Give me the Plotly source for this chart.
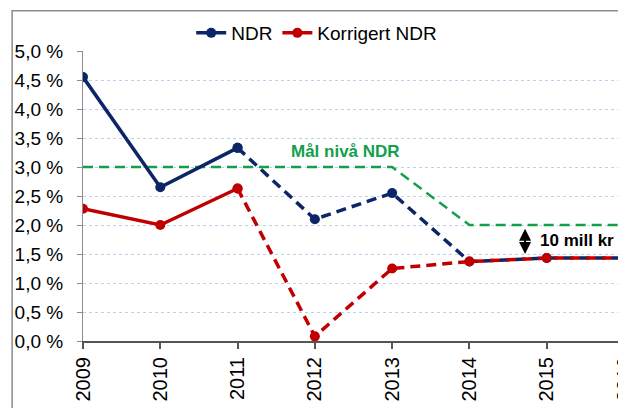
import plotly.graph_objects as go

years = [2009, 2010, 2011, 2012, 2013, 2014, 2015, 2016]
ndr = [4.55, 2.65, 3.33, 2.10, 2.55, 1.37, 1.43, 1.43]
korr_ndr = [2.28, 2.00, 2.63, 0.08, 1.25, 1.37, 1.43, 1.43]
goal_years = [2009, 2013, 2014, 2016]
goal_vals = [3.0, 3.0, 2.0, 2.0]
y_ticks = [0, 0.5, 1.0, 1.5, 2.0, 2.5, 3.0, 3.5, 4.0, 4.5, 5.0]

NAVY = "#0B2566"
RED = "#C00000"
GREEN = "#12A04A"
FONT = "Liberation Sans, Arial, sans-serif"

fig = go.Figure()

fig.add_trace(go.Scatter(x=goal_years, y=goal_vals, mode="lines", showlegend=False,
                         line=dict(color=GREEN, width=2.5, dash="10px,6px"), hoverinfo="skip"))

# NDR
fig.add_trace(go.Scatter(x=years[:3], y=ndr[:3], mode="lines+markers", name="NDR",
                         line=dict(color=NAVY, width=3.5), marker=dict(size=10, color=NAVY),
                         legendgroup="ndr"))
fig.add_trace(go.Scatter(x=years[2:], y=ndr[2:], mode="lines+markers", showlegend=False,
                         line=dict(color=NAVY, width=3.5, dash="10px,6px"),
                         marker=dict(size=10, color=NAVY), legendgroup="ndr"))
# Korrigert NDR
fig.add_trace(go.Scatter(x=years[:3], y=korr_ndr[:3], mode="lines+markers", name="Korrigert NDR",
                         line=dict(color=RED, width=3.5), marker=dict(size=10, color=RED),
                         legendgroup="korr"))
fig.add_trace(go.Scatter(x=years[2:], y=korr_ndr[2:], mode="lines+markers", showlegend=False,
                         line=dict(color=RED, width=3.5, dash="10px,6px"),
                         marker=dict(size=10, color=RED), legendgroup="korr"))

fig.add_annotation(x=2011.66, y=3.27, text="<b>Mål nivå NDR</b>", showarrow=False,
                   xanchor="left", yanchor="middle", font=dict(family=FONT, size=17, color=GREEN))
fig.add_annotation(x=2014.89, y=1.73, text="<b>10 mill kr</b>", showarrow=False,
                   xanchor="left", yanchor="middle", font=dict(family=FONT, size=17, color="#000000"))
fig.add_annotation(x=2014.72, y=1.50, ax=2014.72, ay=1.96, axref="x", ayref="y",
                   text="", showarrow=True, arrowhead=2, arrowside="end+start",
                   arrowwidth=2, arrowsize=1.2, arrowcolor="#000000")

# outer chart frame
fig.add_shape(type="rect", xref="paper", yref="paper", x0=-0.131, x1=1.2, y0=-0.5, y1=1.139,
              line=dict(color="#8C8C8C", width=1.5), fillcolor="rgba(0,0,0,0)", layer="below")

# page body has an 8px margin: figure occupies page x 8..626, y 8..408
fig.update_layout(
    width=618, height=400,
    margin=dict(l=75, r=2, t=43, b=67),
    paper_bgcolor="white", plot_bgcolor="white",
    separators=", ",
    font=dict(family=FONT, size=19, color="#000000"),
    legend=dict(orientation="h", x=0.2, y=1.062, xanchor="left", yanchor="middle",
                font=dict(family=FONT, size=19), itemwidth=30, tracegroupgap=0,
                bgcolor="rgba(0,0,0,0)"),
    showlegend=True,
)
fig.update_xaxes(range=[2009, 2016], tickmode="array", tickvals=years,
                 ticktext=[str(y) for y in years], tickangle=-90, automargin=False,
                 ticklabeloverflow="allow",
                 showgrid=False, zeroline=False, showline=True, linecolor="#555555", linewidth=2,
                 ticks="outside", ticklen=6, tickcolor="#555555", tickwidth=1.5,
                 tickfont=dict(family=FONT, size=20, color="#000000"))
fig.update_yaxes(range=[0, 5.0], tickmode="array", tickvals=y_ticks, automargin=False,
                 ticktext=[f"{v:.1f}".replace(".", ",") + " %" for v in y_ticks],
                 ticklabelstandoff=10,
                 showgrid=True, gridcolor="#BFD0EA", griddash="dot", gridwidth=1,
                 zeroline=False, showline=True, linecolor="#8C8C8C", linewidth=1,
                 ticks="outside", ticklen=5, tickcolor="#8C8C8C",
                 tickfont=dict(family=FONT, size=19, color="#000000"))

fig.write_html("out.html")
